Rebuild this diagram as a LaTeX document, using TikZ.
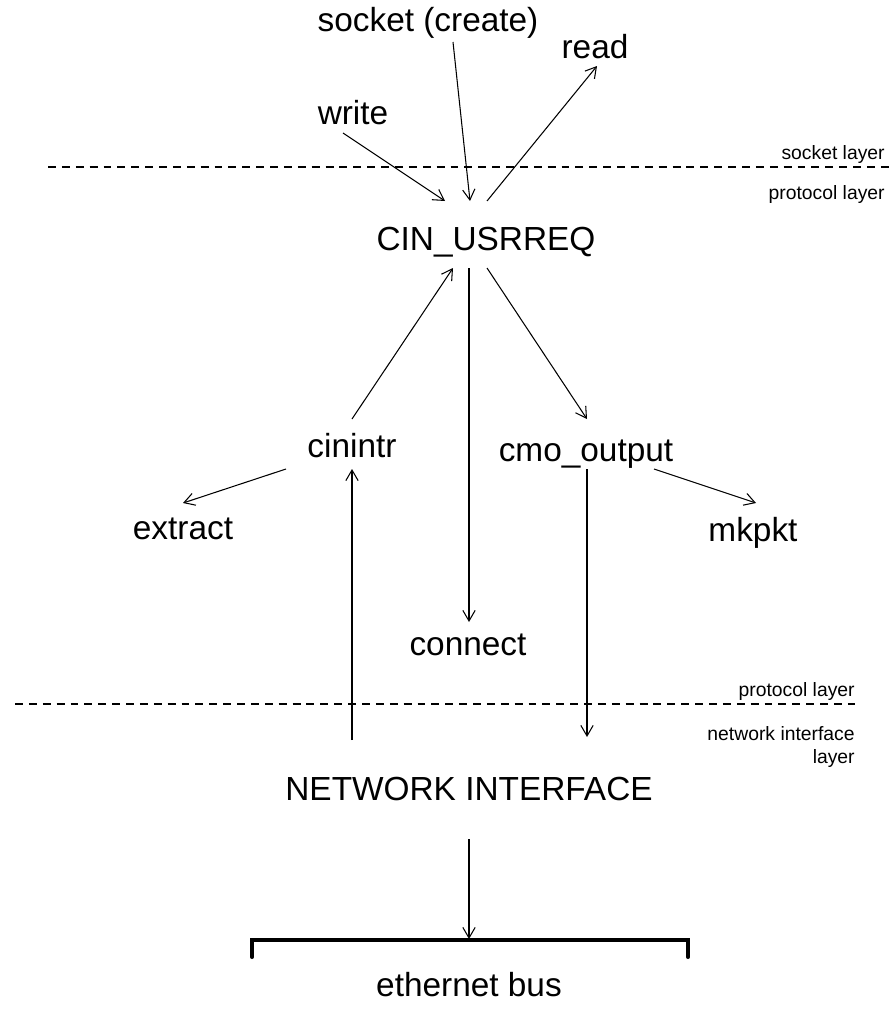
\documentclass[tikz,border=0pt]{standalone}
\usepackage{fontspec}
\setmainfont{Liberation Sans}
\usepackage{tikz}
\usetikzlibrary{arrows.meta}

\begin{document}
\begin{tikzpicture}[x=0.02cm, y=-0.02cm,
		lbl/.style={font=\fontsize{19}{22}\selectfont, inner sep=0pt, anchor=base},
		layerlbl/.style={font=\fontsize{11}{13.6}\selectfont, inner sep=0pt, anchor=base east, align=right},
		call/.style={-{Straight Barb[length=6pt, width=7pt]}, line width=0.6pt},
		boundary/.style={dashed, dash pattern=on 4.5pt off 3.4pt, line width=0.6pt}
	]
	\useasboundingbox (0,0) rectangle (893,1011);

	\node[lbl] (socket) at (428,31) {socket (create)};
	\node[lbl] (read) at (595,58) {read};
	\node[lbl] (write) at (353,124) {write};
	\node[lbl] (usrreq) at (486,250) {CIN\_USRREQ};
	\node[lbl] (cinintr) at (352,457) {cinintr};
	\node[lbl] (cmo) at (586,461) {cmo\_output};
	\node[lbl] (extract) at (183,539) {extract};
	\node[lbl] (mkpkt) at (753,541) {mkpkt};
	\node[lbl] (connect) at (468,655) {connect};
	\node[lbl] (netif) at (469,800) {NETWORK INTERFACE};
	\node[lbl] (ether) at (469,996) {ethernet bus};

	\draw[boundary] (48,167) -- (893,167);
	\node[layerlbl] (sockl) at (885,159) {socket layer};
	\node[layerlbl] (protl1) at (885,199) {protocol layer};

	\draw[boundary] (15,704) -- (855,704);
	\node[layerlbl] (protl2) at (855,696) {protocol layer};
	\node[layerlbl, anchor=east] (netl) at (855,747) {network interface\\layer};

	\coordinate (write-out) at (343,133);
	\coordinate (socket-out) at (453,42);
	\coordinate (read-in) at (597,66);
	\coordinate (usrreq-in1) at (445,201);
	\coordinate (usrreq-in2) at (470,201);
	\coordinate (usrreq-out1) at (487,201);
	\draw[call] (write-out) -- (usrreq-in1);
	\draw[call] (socket-out) -- (usrreq-in2);
	\draw[call] (usrreq-out1) -- (read-in);

	\coordinate (usrreq-in3) at (453,268);
	\coordinate (usrreq-out2) at (469,268);
	\coordinate (usrreq-out3) at (487,268);
	\coordinate (cinintr-out1) at (352,419);
	\coordinate (cmo-in) at (587,419);
	\coordinate (connect-in) at (469,622);
	\draw[call] (cinintr-out1) -- (usrreq-in3);
	\draw[call] (usrreq-out2) -- (connect-in);
	\draw[call] (usrreq-out3) -- (cmo-in);

	\coordinate (cinintr-out2) at (286,469);
	\coordinate (extract-in) at (183,503);
	\coordinate (cmo-out1) at (654,469);
	\coordinate (mkpkt-in) at (756,503);
	\draw[call] (cinintr-out2) -- (extract-in);
	\draw[call] (cmo-out1) -- (mkpkt-in);

	\coordinate (netif-out1) at (352,740);
	\coordinate (cinintr-in) at (352,469);
	\coordinate (cmo-out2) at (587,469);
	\coordinate (netif-in) at (587,737);
	\draw[call] (netif-out1) -- (cinintr-in);
	\draw[call] (cmo-out2) -- (netif-in);

	\coordinate (netif-out2) at (469,839);
	\coordinate (bus-tap) at (469,939);
	\draw[call] (netif-out2) -- (bus-tap);
	\draw[line width=2.3pt, line cap=round] (252,957) -- (252,940) -- (688,940) -- (688,957);
\end{tikzpicture}
\end{document}
